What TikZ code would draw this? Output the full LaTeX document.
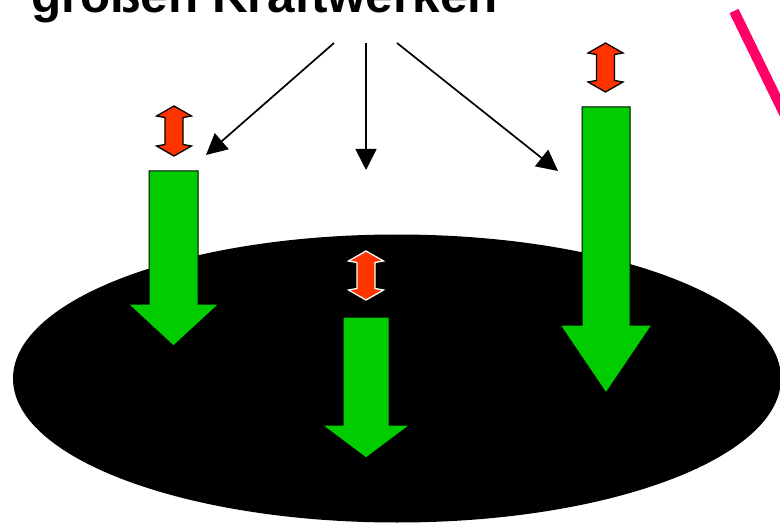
\documentclass[tikz,border=0pt]{standalone}
\usepackage{fontspec}
\setmainfont{Liberation Sans}
\usetikzlibrary{arrows.meta}
\definecolor{flowgreen}{RGB}{0,204,0}
\definecolor{swingred}{RGB}{255,51,0}
\definecolor{markpink}{RGB}{255,0,102}
\tikzset{
  pointer/.style={line width=1.7pt,-{Triangle[length=21pt,width=21pt]}},
  greenarrow/.style={fill=flowgreen,draw=black,line width=1pt,line join=miter},
  swingarrow/.style={fill=swingred,draw=black,line width=1.3pt,line join=miter},
  title/.style={font=\fontsize{49.4pt}{56pt}\selectfont\bfseries,inner sep=0pt,anchor=base west}
}
% down arrow: #2 centre x, #3 top, #4 head base, #5 tip, #6 shaft half width, #7 head half width
\newcommand{\downarrowshape}[7][]{%
  \path[#1] ({#2-#6},#3) -- ({#2+#6},#3) -- ({#2+#6},#4) -- ({#2+#7},#4)
    -- (#2,#5) -- ({#2-#7},#4) -- ({#2-#6},#4) -- cycle;}
% double-headed arrow: #2 centre x, #3 top tip, #4 bottom tip
\newcommand{\swingshape}[4][]{%
  \path[#1] (#2,#3) -- ({#2+17.5},{#3+10}) -- ({#2+9},{#3+11.5}) -- ({#2+9},{#4-11.5})
    -- ({#2+17.5},{#4-10}) -- (#2,#4) -- ({#2-17.5},{#4-10}) -- ({#2-9},{#4-11.5})
    -- ({#2-9},{#3+11.5}) -- ({#2-17.5},{#3+10}) -- cycle;}
\begin{document}
\begin{tikzpicture}[x=1pt,y=-1pt]
  \useasboundingbox (0,0) rectangle (780,524);
  \clip (0,0) rectangle (780,524);
  \fill[white] (0,0) rectangle (780,524);

  % ground
  \fill[black] (397,378.5) ellipse [x radius=384, y radius=144];

  % heading
  \node[title] (head) at (31,12.5) {großen Kraftwerken};

  % pink stroke at the right edge
  \coordinate (pinkA) at (734,11);
  \coordinate (pinkB) at (814,175);
  \draw[markpink,line width=10pt] (pinkA) -- (pinkB);

  % pointers from the heading
  \coordinate (srcL) at (334,43);
  \coordinate (srcM) at (366,43);
  \coordinate (srcR) at (397,43);
  \coordinate (dstL) at (206,155);
  \coordinate (dstM) at (366,170);
  \coordinate (dstR) at (558,171);
  \draw[pointer] (srcL) -- (dstL);
  \draw[pointer] (srcM) -- (dstM);
  \draw[pointer] (srcR) -- (dstR);

  % green downward arrows
  \downarrowshape[greenarrow]{173.5}{171}{304}{346}{24.5}{45.5}
  \downarrowshape[greenarrow]{366}{317}{425}{458}{23}{44}
  \downarrowshape[greenarrow]{606}{107}{325}{393}{24}{46}

  % red double arrows
  \swingshape[swingarrow]{174}{106}{156}
  \swingshape[swingarrow,draw=white]{366}{251}{300}
  \swingshape[swingarrow]{605.5}{43}{92}
\end{tikzpicture}
\end{document}
